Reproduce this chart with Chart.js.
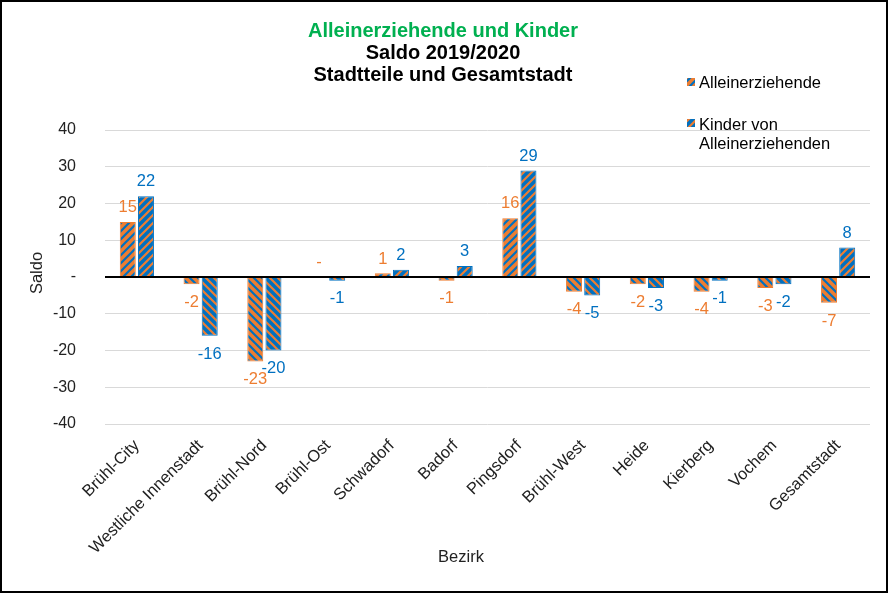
<!DOCTYPE html>
<html>
<head>
<meta charset="utf-8">
<script src="https://cdn.jsdelivr.net/npm/chart.js@4.4.1/dist/chart.umd.min.js"></script>
<style>
  body { margin: 0; background: #fff; }
</style>
</head>
<body>
<canvas id="saldoChart" width="888" height="593"></canvas>
<script>
const categories = ['Brühl-City', 'Westliche Innenstadt', 'Brühl-Nord', 'Brühl-Ost', 'Schwadorf', 'Badorf',
    'Pingsdorf', 'Brühl-West', 'Heide', 'Kierberg', 'Vochem', 'Gesamtstadt'];
const alleinerziehende = [15, -2, -23, 0, 1, -1, 16, -4, -2, -4, -3, -7];
const kinderVonAlleinerziehenden = [22, -16, -20, -1, 2, 3, 29, -5, -3, -1, -2, 8];
const seriesNames = ['Alleinerziehende', 'Kinder von Alleinerziehenden'];
const titleLines = ['Alleinerziehende und Kinder', 'Saldo 2019/2020', 'Stadtteile und Gesamtstadt'];

const ORANGE = '#ED7D31';
const BLUE = '#0070C0';
const FONT = '"Liberation Sans", Arial, sans-serif';

// striped fill, "/" for positive bars and "\" for negative ones (like the Excel original)
function makePattern(bg, fg, rising) {
    const c = document.createElement('canvas');
    c.width = 8;
    c.height = 8;
    const p = c.getContext('2d');
    p.fillStyle = bg;
    p.fillRect(0, 0, 8, 8);
    p.strokeStyle = fg;
    p.lineWidth = 2.2;
    p.beginPath();
    if (rising) {
        p.moveTo(-2, 10); p.lineTo(10, -2);
        p.moveTo(-2, 2); p.lineTo(2, -2);
        p.moveTo(6, 10); p.lineTo(10, 6);
    } else {
        p.moveTo(-2, -2); p.lineTo(10, 10);
        p.moveTo(6, -2); p.lineTo(10, 2);
        p.moveTo(-2, 6); p.lineTo(2, 10);
    }
    p.stroke();
    return document.getElementById('saldoChart').getContext('2d').createPattern(c, 'repeat');
}

const patterns = {
    orangeUp: makePattern(ORANGE, BLUE, true),
    orangeDown: makePattern(ORANGE, BLUE, false),
    blueUp: makePattern(BLUE, ORANGE, true),
    blueDown: makePattern(BLUE, ORANGE, false)
};

const extras = {
    id: 'extras',
    beforeDraw(chart) {
        const ctx = chart.ctx;
        ctx.save();
        ctx.fillStyle = '#fff';
        ctx.fillRect(0, 0, chart.width, chart.height);
        ctx.restore();
    },
    afterDraw(chart) {
        const ctx = chart.ctx;
        ctx.save();

        // value labels at the bar ends
        ctx.font = '16.5px ' + FONT;
        ctx.textAlign = 'center';
        chart.data.datasets.forEach((ds, i) => {
            chart.getDatasetMeta(i).data.forEach((bar, j) => {
                const v = ds.data[j];
                ctx.fillStyle = ds.labelColor;
                if (v >= 0) {
                    ctx.textBaseline = 'bottom';
                    ctx.fillText(v === 0 ? '-' : String(v), bar.x, bar.y - 6);
                } else {
                    ctx.textBaseline = 'top';
                    ctx.fillText(String(v), bar.x, bar.y + 10);
                }
            });
        });

        // title
        ctx.font = 'bold 20px ' + FONT;
        ctx.textBaseline = 'middle';
        ctx.fillStyle = '#00B050';
        ctx.fillText(titleLines[0], 443, 31);
        ctx.fillStyle = '#000';
        ctx.fillText(titleLines[1], 443, 53);
        ctx.fillText(titleLines[2], 443, 75);

        // legend
        ctx.font = '16.5px ' + FONT;
        ctx.textAlign = 'left';
        ctx.fillStyle = patterns.orangeUp;
        ctx.fillRect(687, 78, 8, 8);
        ctx.fillStyle = patterns.blueUp;
        ctx.fillRect(687, 119, 8, 8);
        ctx.fillStyle = '#000';
        ctx.fillText(seriesNames[0], 699, 83);
        ctx.fillText('Kinder von', 699, 125);
        ctx.fillText('Alleinerziehenden', 699, 144);

        // axis titles
        ctx.font = '16.5px ' + FONT;
        ctx.textAlign = 'center';
        ctx.fillStyle = '#222';
        ctx.fillText('Bezirk', 461, 557);
        ctx.translate(37, 273);
        ctx.rotate(-Math.PI / 2);
        ctx.fillText('Saldo', 0, 0);
        ctx.restore();

        // frame
        ctx.save();
        ctx.strokeStyle = '#000';
        ctx.lineWidth = 2;
        ctx.strokeRect(1, 1, chart.width - 2, chart.height - 2);
        ctx.restore();
    }
};

function barFill(up, down) {
    return c => (c.raw >= 0 ? up : down);
}

new Chart(document.getElementById('saldoChart'), {
    type: 'bar',
    data: {
        labels: categories,
        datasets: [{
            label: seriesNames[0],
            data: alleinerziehende,
            backgroundColor: barFill(patterns.orangeUp, patterns.orangeDown),
            borderColor: ORANGE,
            borderWidth: 1,
            labelColor: ORANGE,
            barPercentage: 0.88,
            categoryPercentage: 0.57
        }, {
            label: seriesNames[1],
            data: kinderVonAlleinerziehenden,
            backgroundColor: barFill(patterns.blueUp, patterns.blueDown),
            borderColor: BLUE,
            borderWidth: 1,
            labelColor: BLUE,
            barPercentage: 0.88,
            categoryPercentage: 0.57
        }]
    },
    options: {
        responsive: false,
        animation: false,
        layout: { padding: { top: 130, right: 18, left: 0, bottom: 0 } },
        plugins: {
            legend: { display: false },
            title: { display: false },
            tooltip: { enabled: false }
        },
        scales: {
            x: {
                grid: { display: false },
                border: { display: false },
                ticks: {
                    color: '#222',
                    font: { family: FONT, size: 16.5 },
                    minRotation: 45,
                    maxRotation: 45,
                    autoSkip: false,
                    padding: 4
                },
                afterFit: scale => { scale.height = 169; }
            },
            y: {
                min: -40,
                max: 40,
                border: { display: false },
                grid: {
                    drawTicks: false,
                    color: c => (c.tick && c.tick.value === 0 ? '#000' : '#D9D9D9'),
                    lineWidth: c => (c.tick && c.tick.value === 0 ? 2 : 1)
                },
                ticks: {
                    stepSize: 10,
                    color: '#222',
                    padding: 29,
                    font: { family: FONT, size: 16 },
                    callback: v => (v === 0 ? '-' : v)
                },
                afterFit: scale => { scale.width = 105; }
            }
        }
    },
    plugins: [extras]
});
</script>
</body>
</html>
